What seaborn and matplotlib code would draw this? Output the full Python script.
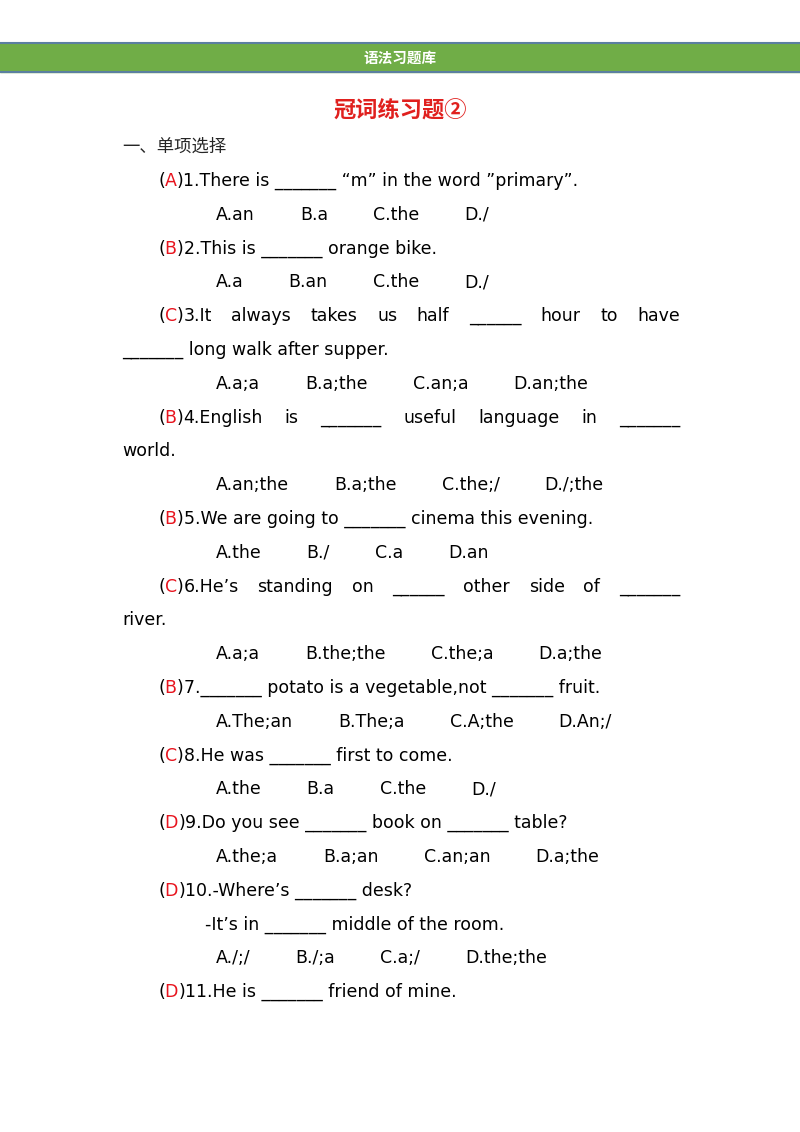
import matplotlib
matplotlib.use("Agg")
import matplotlib.pyplot as plt
import seaborn as sns

sns.set_theme(style="white")
plt.rcParams['font.family'] = ['Noto Sans CJK SC', 'DejaVu Sans']
LATIN = ['DejaVu Sans', 'Noto Sans CJK SC']

header = "语法习题库"
title = "冠词练习题②"
section = "一、单项选择"

# (kind, answer, text, justified)
lines = [
    ("q", "A", "1.There is _______ “m” in the word ”primary”.", False),
    ("o", None, ["A.an", "B.a", "C.the", "D./"], False),
    ("q", "B", "2.This is _______ orange bike.", False),
    ("o", None, ["A.a", "B.an", "C.the", "D./"], False),
    ("q", "C", "3.It always takes us half ______ hour to have", True),
    ("c", None, "_______ long walk after supper.", False),
    ("o", None, ["A.a;a", "B.a;the", "C.an;a", "D.an;the"], False),
    ("q", "B", "4.English is _______ useful language in _______", True),
    ("c", None, "world.", False),
    ("o", None, ["A.an;the", "B.a;the", "C.the;/", "D./;the"], False),
    ("q", "B", "5.We are going to _______ cinema this evening.", False),
    ("o", None, ["A.the", "B./", "C.a", "D.an"], False),
    ("q", "C", "6.He’s standing on ______ other side of _______", True),
    ("c", None, "river.", False),
    ("o", None, ["A.a;a", "B.the;the", "C.the;a", "D.a;the"], False),
    ("q", "B", "7._______ potato is a vegetable,not _______ fruit.", False),
    ("o", None, ["A.The;an", "B.The;a", "C.A;the", "D.An;/"], False),
    ("q", "C", "8.He was _______ first to come.", False),
    ("o", None, ["A.the", "B.a", "C.the", "D./"], False),
    ("q", "D", "9.Do you see _______ book on _______ table?", False),
    ("o", None, ["A.the;a", "B.a;an", "C.an;an", "D.a;the"], False),
    ("q", "D", "10.-Where’s _______ desk?", False),
    ("s", None, "-It’s in _______ middle of the room.", False),
    ("o", None, ["A./;/", "B./;a", "C.a;/", "D.the;the"], False),
    ("q", "D", "11.He is _______ friend of mine.", False),
]

fig = plt.figure(figsize=(8, 11.32), dpi=100)
ax = fig.add_axes([0, 0, 1, 1])
ax.set_xlim(0, 800)
ax.set_ylim(1132, 0)
ax.axis('off')
r = fig.canvas.get_renderer()
FS = 12.5


def put(x, y, s, color="black"):
    t = ax.text(x, y, s, fontsize=FS, color=color, va="center", ha="left", family=LATIN)
    return x + t.get_window_extent(r).width


def width(s):
    t = ax.text(0, 0, s, fontsize=FS, family=LATIN)
    w = t.get_window_extent(r).width
    t.remove()
    return w


ax.axhspan(43, 72, color="#70AD47")
ax.axhline(43, color="#5B7FA0", lw=1.5)
ax.axhline(72, color="#5B7FA0", lw=1.5)
ax.text(400, 58, header, color="white", fontsize=10.5, weight="bold", ha="center", va="center")
ax.text(400, 111, title, color="#E0201E", fontsize=16, weight="bold", ha="center", va="center")
ax.text(122, 147, section, fontsize=FS, va="center")

y = 181
for kind, ans, text, just in lines:
    if kind == "q":
        x = put(158, y, "(")
        x = put(x, y, ans, color="#E8141E")
        x = put(x, y, ")")
        if just:
            words = text.split(" ")
            total = sum(width(w) for w in words)
            gap = (680 - x - total) / (len(words) - 1)
            for w in words:
                x = put(x, y, w) + gap
        else:
            put(x, y, text)
    elif kind == "c":
        put(122, y, text)
    elif kind == "s":
        put(205, y, text)
    else:
        x = 216
        for opt in text:
            x = put(x, y, opt) + 45
    y += 33.8

fig.savefig("out.png", dpi=100)
